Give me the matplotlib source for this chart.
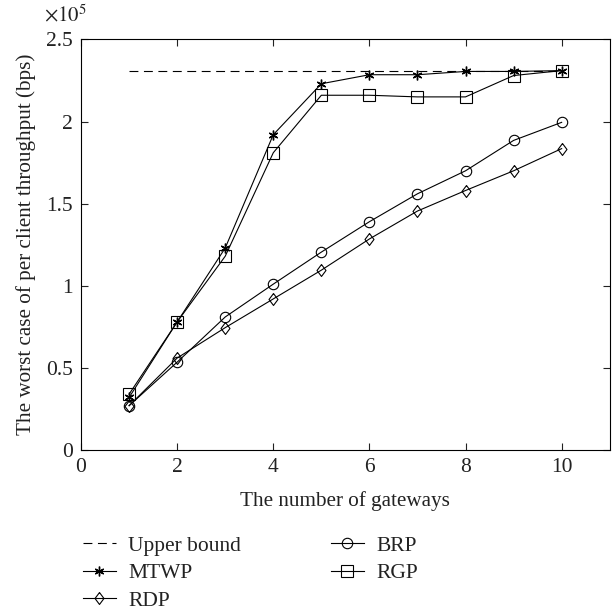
import matplotlib
matplotlib.use("Agg")
import matplotlib.pyplot as plt
from matplotlib.ticker import FuncFormatter

plt.rcParams['font.family'] = ['Liberation Serif', 'DejaVu Serif']
plt.rcParams['mathtext.fontset'] = 'stix'

# Dados (bps)
gateways = [1, 2, 3, 4, 5, 6, 7, 8, 9, 10]
upper_bound = 2.31e5
mtwp = [0.32e5, 0.78e5, 1.23e5, 1.92e5, 2.23e5, 2.285e5, 2.285e5, 2.305e5, 2.305e5, 2.31e5]
rgp = [0.34e5, 0.78e5, 1.18e5, 1.81e5, 2.16e5, 2.16e5, 2.15e5, 2.15e5, 2.28e5, 2.31e5]
brp = [0.27e5, 0.535e5, 0.81e5, 1.01e5, 1.205e5, 1.39e5, 1.56e5, 1.70e5, 1.885e5, 1.995e5]
rdp = [0.27e5, 0.56e5, 0.745e5, 0.92e5, 1.095e5, 1.285e5, 1.455e5, 1.58e5, 1.70e5, 1.835e5]

fig = plt.figure(figsize=(6.14, 6.11), dpi=100)
ax = fig.add_axes([0.132, 0.2635, 0.861, 0.672])

# losango estilo MATLAB (um pouco mais alto que largo)
diamante = [(0, 1), (0.75, 0), (0, -1), (-0.75, 0), (0, 1)]

lw = 0.8
ub, = ax.plot([gateways[0], gateways[-1]], [upper_bound, upper_bound], color='black',
              lw=lw, dashes=(8, 5), label='Upper bound')
l_mtwp, = ax.plot(gateways, mtwp, color='black', lw=lw, marker=(6, 2, 0), ms=7,
                  mfc='black', mec='black', mew=1.0, label='MTWP')
l_rgp, = ax.plot(gateways, rgp, color='black', lw=lw, marker='s', ms=8,
                 mfc='none', mec='black', mew=0.8, label='RGP')
l_brp, = ax.plot(gateways, brp, color='black', lw=lw, marker='o', ms=7.5,
                 mfc='none', mec='black', mew=0.8, label='BRP')
l_rdp, = ax.plot(gateways, rdp, color='black', lw=lw, marker=diamante, ms=8.6,
                 mfc='none', mec='black', mew=0.8, label='RDP')

ax.set_xlim(0, 11)
ax.set_ylim(0, 2.5e5)
ax.set_xticks([0, 2, 4, 6, 8, 10])
ax.set_yticks([0, 0.5e5, 1e5, 1.5e5, 2e5, 2.5e5])
ax.yaxis.set_major_formatter(FuncFormatter(lambda v, p: f"{v / 1e5:g}"))
ax.tick_params(direction='in', top=True, right=True, length=5, width=0.8,
               labelsize=15.5, colors='#222222', pad=6)
for s in ax.spines.values():
    s.set_linewidth(0.8)

ax.set_xlabel('The number of gateways', fontsize=15.2, color='#222222', labelpad=10)
ax.set_ylabel('The worst case of per client throughput (bps)', fontsize=15.2,
              color='#222222', labelpad=7)
fig.text(0.072, 0.975, r'$\times10^5$', fontsize=15, color='#222222', va='center')

fig.legend(handles=[ub, l_mtwp, l_rdp, l_brp, l_rgp], ncol=2, frameon=False,
           loc='upper left', bbox_to_anchor=(0.103, 0.155), fontsize=15.5,
           handlelength=1.53, handletextpad=0.6, columnspacing=4.15,
           labelspacing=0.35, labelcolor='#222222')

fig.savefig('out.png', dpi=100)
